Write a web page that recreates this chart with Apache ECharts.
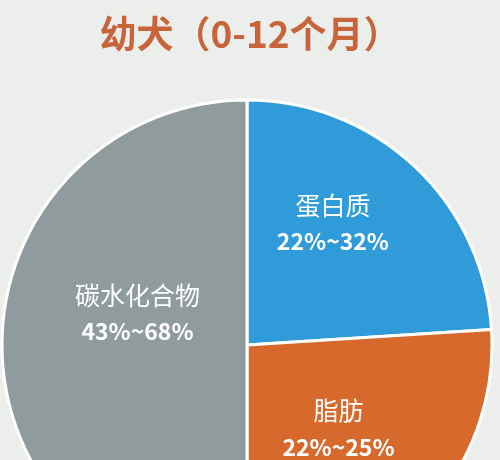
<!DOCTYPE html>
<html><head><meta charset="utf-8">
<script src="https://cdn.jsdelivr.net/npm/echarts@6/dist/echarts.min.js"></script>
<style>html,body{margin:0;padding:0;background:#eceeec}#c{width:500px;height:460px}</style>
</head><body><div id="c"></div>
<script>
const title = '幼犬（0-12个月）';
const categories = ['蛋白质', '脂肪', '碳水化合物'];
const values = [24, 26, 50];
const ranges = ['22%~32%', '22%~25%', '43%~68%'];
const colors = ['#2f9bd8', '#d8692c', '#8f9b9c'];
const offsets = [[0, -32], [0, -4], [16, -34]];
const chart = echarts.init(document.getElementById('c'));
chart.setOption({
  backgroundColor: '#eceeec',
  title: { text: title, left: 'center', top: 10,
    textStyle: { color: '#c8643a', fontSize: 37, fontWeight: 'bold', fontFamily: 'Noto Sans CJK SC' } },
  series: [{
    type: 'pie', center: [247, 345], radius: [0, 245], startAngle: 90, clockwise: true,
    animation: false,
    itemStyle: { borderColor: '#ffffff', borderWidth: 3 },
    label: { position: 'inside', color: '#ffffff',
      formatter: p => '{n|' + p.name + '}\n{r|' + ranges[p.dataIndex] + '}',
      rich: { n: { fontSize: 25, color: '#ffffff', fontFamily: 'Noto Sans CJK SC', lineHeight: 40 },
              r: { fontSize: 23, fontWeight: 'bold', color: '#ffffff', fontFamily: 'Noto Sans CJK SC', lineHeight: 32 } } },
    labelLine: { show: false },
    data: categories.map((c, i) => ({ name: c, value: values[i], itemStyle: { color: colors[i] },
      label: { offset: offsets[i] } }))
  }]
});
</script></body></html>
